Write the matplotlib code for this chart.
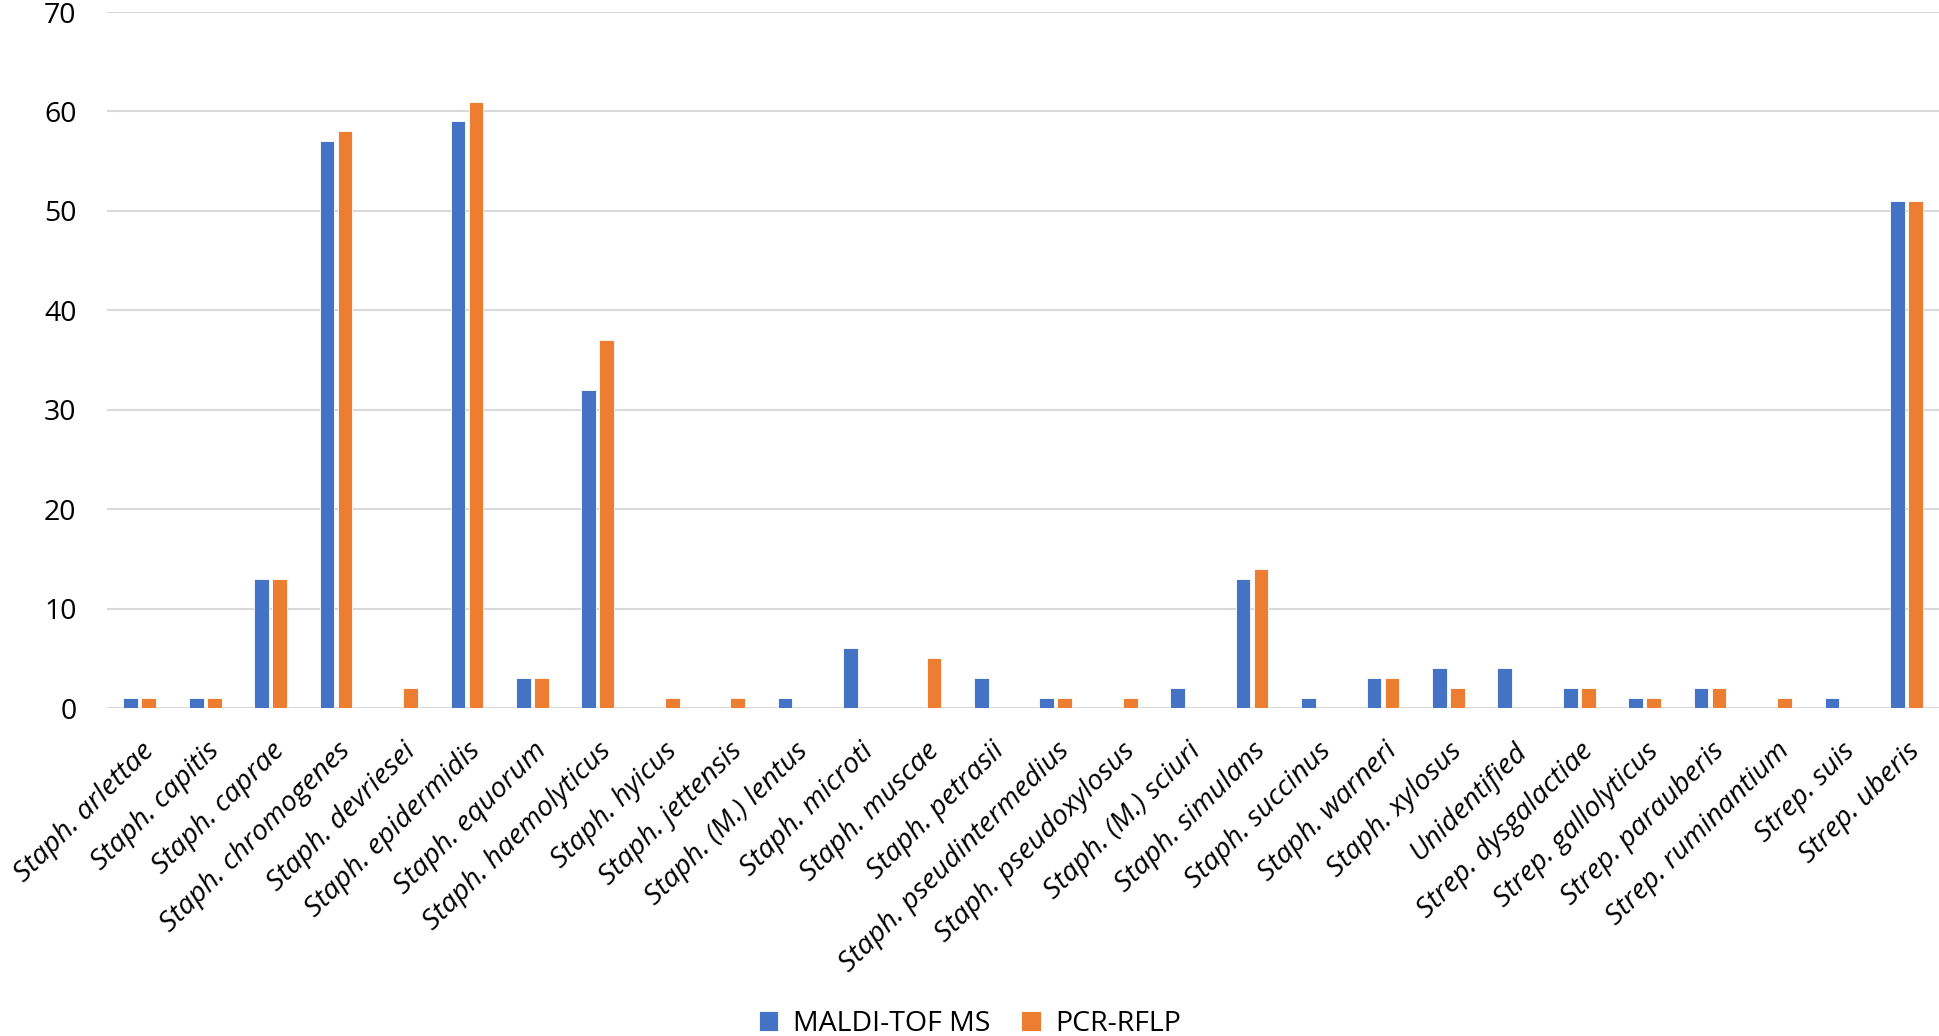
import numpy as np
import matplotlib
matplotlib.use('Agg')
import matplotlib.pyplot as plt

# Data
species = ['Staph. arlettae', 'Staph. capitis', 'Staph. caprae', 'Staph. chromogenes',
           'Staph. devriesei', 'Staph. epidermidis', 'Staph. equorum', 'Staph. haemolyticus',
           'Staph. hyicus', 'Staph. jettensis', 'Staph. (M.) lentus', 'Staph. microti',
           'Staph. muscae', 'Staph. petrasii', 'Staph. pseudintermedius', 'Staph. pseudoxylosus',
           'Staph. (M.) sciuri', 'Staph. simulans', 'Staph. succinus', 'Staph. warneri',
           'Staph. xylosus', 'Unidentified', 'Strep. dysgalactiae', 'Strep. gallolyticus',
           'Strep. parauberis', 'Strep. ruminantium', 'Strep. suis', 'Strep. uberis']
maldi = [1, 1, 13, 57, 0, 59, 3, 32, 0, 0, 1, 6, 0, 3, 1, 0, 2, 13, 1, 3, 4, 4, 2, 1, 2, 0, 1, 51]
pcr = [1, 1, 13, 58, 2, 61, 3, 37, 1, 1, 0, 0, 5, 0, 1, 1, 0, 14, 0, 3, 2, 0, 2, 1, 2, 1, 0, 51]

plt.rcParams['font.family'] = ['Open Sans', 'DejaVu Sans']

fig = plt.figure(figsize=(19.4, 10.36), dpi=100)
ax = fig.add_axes([0.0552, 0.3166, 0.9443, 0.6718])

x = np.arange(len(species))
w = 0.225
ax.bar(x - 0.137, maldi, w, color='#4472C4', edgecolor='white', linewidth=0.6, label='MALDI-TOF MS', zorder=3)
ax.bar(x + 0.137, pcr, w, color='#ED7D31', edgecolor='white', linewidth=0.6, label='PCR-RFLP', zorder=3)

ax.set_xlim(-0.5, len(species) - 0.5)
ax.set_ylim(0, 70)
ax.set_yticks(range(0, 71, 10))
ax.yaxis.grid(True, color='#D9D9D9', linewidth=1.5, zorder=0)
for s in ax.spines.values():
    s.set_visible(False)
ax.tick_params(axis='both', length=0)
ax.tick_params(axis='y', labelsize=20.5, pad=22)
ax.set_xticks(x)
ax.set_xticklabels(species, rotation=45, ha='right', rotation_mode='anchor',
                   fontsize=20.5, fontstyle='italic')
ax.tick_params(axis='x', pad=21)

fig.legend(loc='lower center', bbox_to_anchor=(0.5, -0.027), ncol=2, frameon=False,
           fontsize=20.5, handlelength=0.7, handleheight=0.7, columnspacing=1.1,
           handletextpad=0.5)

fig.savefig('out.png', dpi=100)
